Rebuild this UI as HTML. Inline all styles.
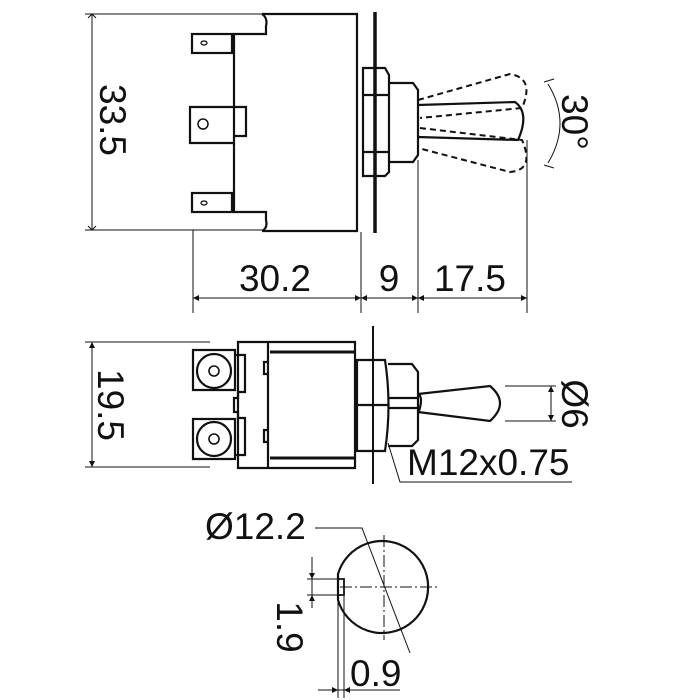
<!DOCTYPE html>
<html><head><style>body{margin:0;background:#fff}svg{display:block}</style></head><body>
<svg width="700" height="700" viewBox="0 0 700 700" xmlns="http://www.w3.org/2000/svg" font-family="Liberation Sans, sans-serif" fill="none" stroke="#111">
<!-- TOP VIEW -->
<g stroke-width="1">
<line x1="85" y1="14" x2="265" y2="14"/><line x1="85" y1="230" x2="265" y2="230"/>
<line x1="92" y1="14" x2="92" y2="230"/>
<line x1="193" y1="230" x2="193" y2="313"/><line x1="361" y1="232" x2="361" y2="313"/>
<line x1="418" y1="160" x2="418" y2="313"/><line x1="527" y1="140" x2="527" y2="313"/>
<line x1="193" y1="298" x2="527" y2="298"/>
</g>
<path d="M88 18 L92 14 L96 18 M88 226 L92 230 L96 226" stroke-width="1"/>
<path d="M193 298 l6 -3 v6z M361 298 l-6 -3 v6z M361 298 l6 -3 v6z M418 298 l-6 -3 v6z M418 298 l6 -3 v6z M527 298 l-6 -3 v6z" fill="#111" stroke="none"/>
<g stroke-width="2.2">
<path d="M262 14 H357 V231 H262"/>
<path d="M262 14 q6 4 4 12 v8 H234 v178 h32 v8 q2 8 -4 11"/>
<rect x="192" y="34" width="40" height="19"/>
<rect x="192" y="193" width="40" height="19"/>
<path d="M234 107 H190 V143 H234 M234 107 h12 v29 h-12"/>
<circle cx="203" cy="124" r="5" stroke-width="1.5"/>
<ellipse cx="204" cy="43" rx="3" ry="2" stroke-width="1.3"/>
<ellipse cx="204" cy="203" rx="3" ry="2" stroke-width="1.3"/>
<line x1="375" y1="12" x2="375" y2="233" stroke-width="3.5"/>
<path d="M363 68 H385 L389 75 V172 L385 176 H363 Z M363 95 H389 M363 152 H389"/>
<path d="M389 83 H413 L418 90 V155 L413 162 H389"/>
<path d="M418 105 L515 102 Q530 113 518 140 L418 137"/>
</g>
<g stroke-width="2" stroke-dasharray="6 4">
<path d="M418 100 L510 74 Q535 78 522 108 L420 118"/>
<path d="M420 128 L522 140 Q535 170 510 172 L418 148"/>
</g>
<path d="M548 84 Q572 123 548 163" stroke-width="1"/>
<path d="M544 82 l10 -3 M544 165 l10 3" stroke-width="1"/>
<g fill="#111" stroke="none" font-size="37">
<text transform="translate(100,120) rotate(90)" text-anchor="middle">33.5</text>
<text x="275" y="291" text-anchor="middle">30.2</text>
<text x="389" y="291" text-anchor="middle">9</text>
<text x="470" y="291" text-anchor="middle">17.5</text>
<text transform="translate(562,122) rotate(90)" text-anchor="middle">30°</text>
</g>
<!-- SIDE VIEW -->
<g stroke-width="1">
<line x1="85" y1="342" x2="210" y2="342"/><line x1="85" y1="467" x2="210" y2="467"/>
<line x1="92" y1="342" x2="92" y2="467"/>
<line x1="505" y1="386" x2="556" y2="386"/><line x1="505" y1="421" x2="556" y2="421"/>
<line x1="551" y1="386" x2="551" y2="421"/>
<path d="M388 443 L400 482 H572"/>
</g>
<path d="M92 342 l-3 6 h6z M92 467 l-3 -6 h6z M551 386 l-3 6 h6z M551 421 l-3 -6 h6z" fill="#111" stroke="none"/>
<g stroke-width="2.2">
<path d="M238 342 H355 V468 H238 Z M268 342 V468"/>
<path d="M270 352 H355 M270 458 H355" stroke-width="3"/>
<path d="M268 362 h-4 v12 h4 M268 430 h-4 v12 h4"/>
<path d="M193 350 h42 v40 h-42 z M193 419 h42 v40 h-42 z"/>
<path d="M235 355 h10 v37 h-7 v6 h-4 v14 h4 v6 h7 v37 h-10"/>
<circle cx="214" cy="371" r="17"/><circle cx="214" cy="371" r="5" stroke-width="1.6"/>
<circle cx="214" cy="439" r="17"/><circle cx="214" cy="439" r="5" stroke-width="1.6"/>
<line x1="373" y1="326" x2="373" y2="484" stroke-width="2"/>
<path d="M357 360 H385 Q392 405 385 451 H357 Z M357 405 H388"/>
<path d="M388 364 H412 L418 372 V440 L412 446 H388 M388 398 H418 M388 408 H418"/>
<path d="M418 393 Q424 398 418 414 M418 394 L490 386 Q510 403 490 421 L418 412"/>
</g>
<g fill="#111" stroke="none" font-size="37">
<text transform="translate(98,405) rotate(90)" text-anchor="middle">19.5</text>
<text transform="translate(562,404) rotate(90)" text-anchor="middle">Ø6</text>
<text x="407" y="475">M12x0.75</text>
</g>
<!-- BOTTOM VIEW -->
<path d="M338 574 A46 46 0 1 1 338 600 Z" stroke-width="2.2"/>
<path d="M338 579 H344 V595 H338" stroke-width="1.8"/>
<g stroke-width="1">
<line x1="340" y1="587" x2="438" y2="587" stroke-dasharray="12 3 2 3"/>
<line x1="384" y1="535" x2="384" y2="640" stroke-dasharray="12 3 2 3"/>
<path d="M315 528 H362 L410 653"/>
<line x1="307" y1="579" x2="338" y2="579"/><line x1="307" y1="595" x2="338" y2="595"/>
<line x1="312" y1="557" x2="312" y2="608"/>
<line x1="338" y1="600" x2="338" y2="698"/><line x1="344" y1="596" x2="344" y2="698"/>
<line x1="318" y1="690" x2="400" y2="690"/>
</g>
<path d="M312 579 l-3 -6 h6z M312 595 l-3 6 h6z M338 690 l-6 -3 v6z M344 690 l6 -3 v6z" fill="#111" stroke="none"/>
<g fill="#111" stroke="none" font-size="37">
<text x="205" y="539">Ø12.2</text>
<text transform="translate(277,627) rotate(90)" text-anchor="middle">1.9</text>
<text x="350" y="686">0.9</text>
</g>
</svg>
</body></html>
